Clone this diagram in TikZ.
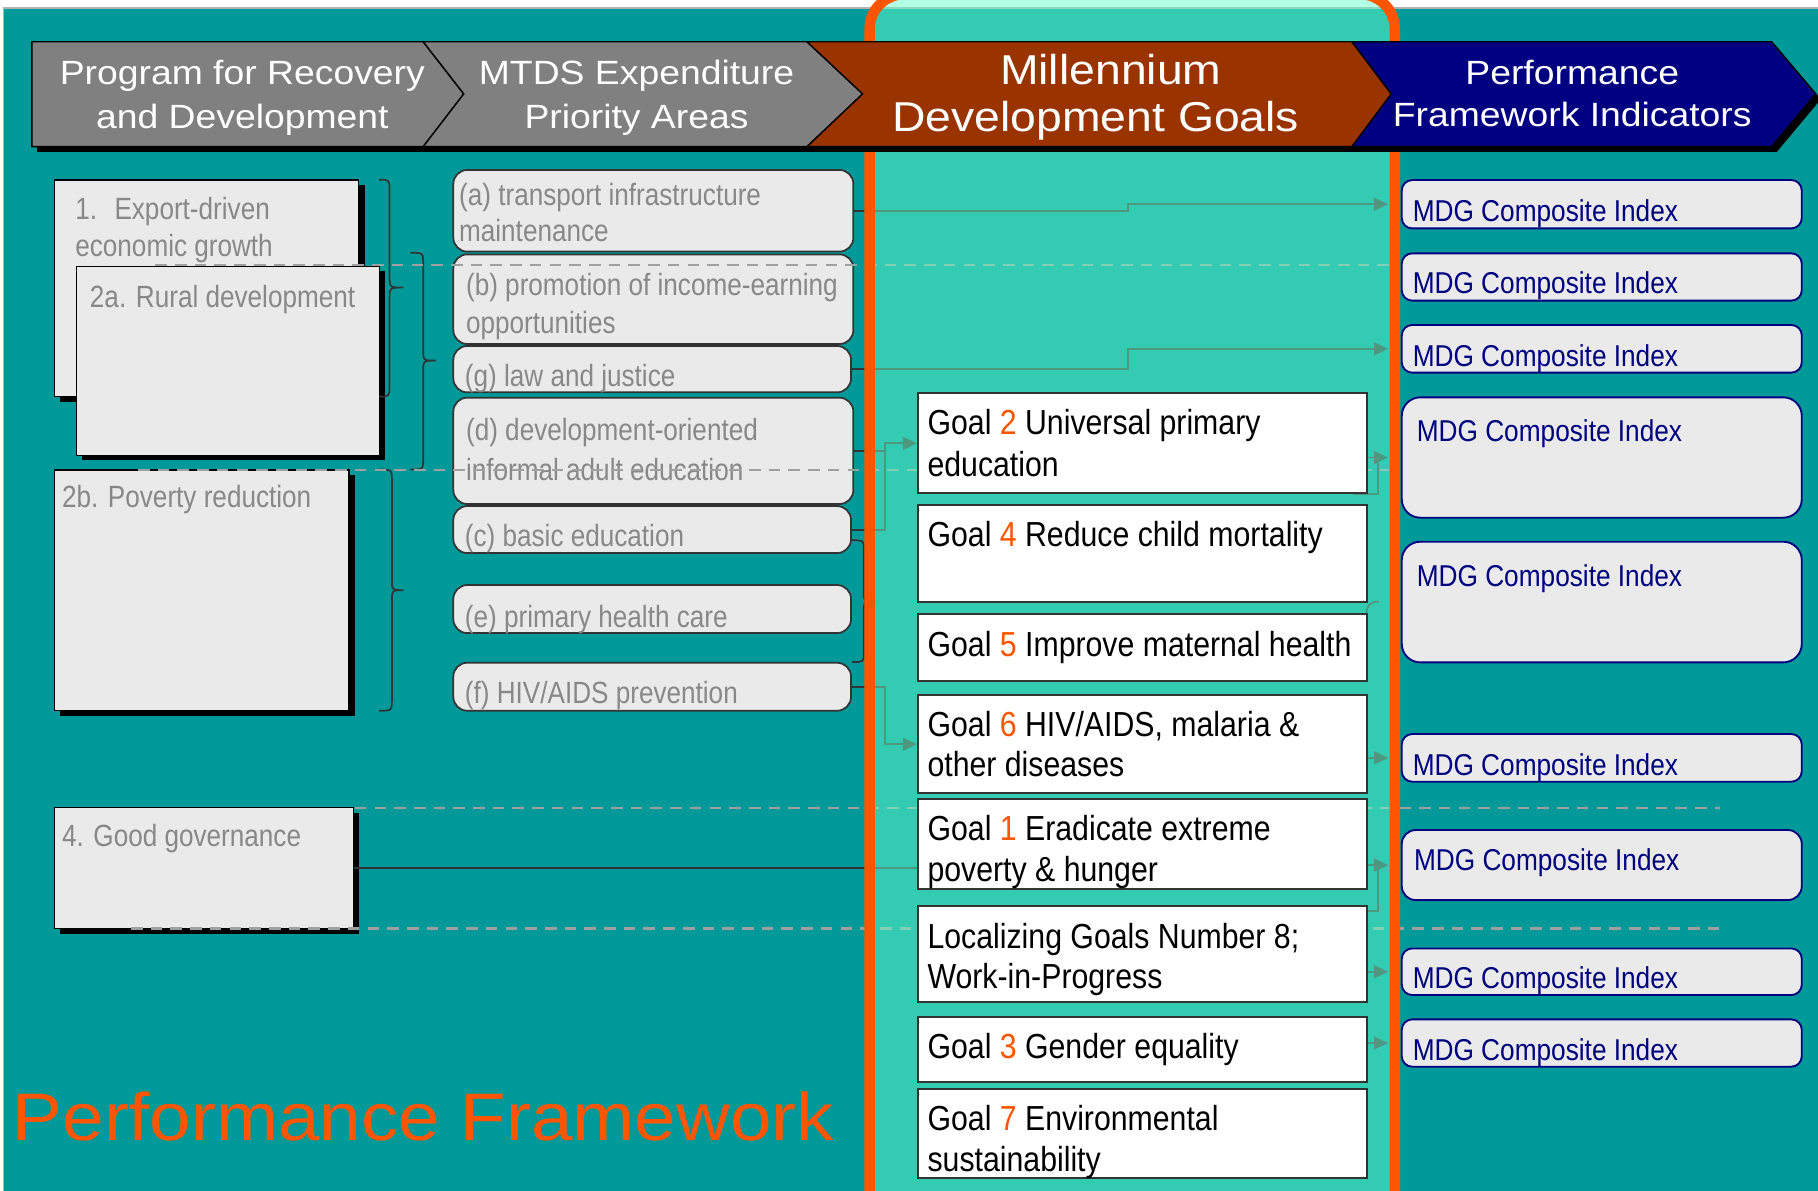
\documentclass[tikz,border=0pt]{standalone}
\usepackage{fontspec}
\newfontfamily\bodyf[FakeStretch=0.85]{Liberation Sans}
\newfontfamily\goalf[FakeStretch=0.87]{Liberation Sans}
\newfontfamily\headf[FakeStretch=1.11]{Liberation Sans}
\usetikzlibrary{arrows.meta,fit,shadows}
\pgfdeclarelayer{bglayer}
\pgfdeclarelayer{connlayer}
\pgfdeclarelayer{collayer}
\pgfdeclarelayer{toplayer}
\pgfsetlayers{bglayer,connlayer,collayer,main,toplayer}
\definecolor{teal0}{HTML}{009999}
\definecolor{colfill}{HTML}{66FFCC}
\definecolor{orng}{HTML}{FF5500}
\definecolor{bannergray}{HTML}{808080}
\definecolor{brown0}{HTML}{993300}
\definecolor{navy0}{HTML}{000080}
\definecolor{boxgray}{HTML}{EAEAEA}
\definecolor{txtgray}{HTML}{888888}
\definecolor{dkline}{HTML}{333333}
\definecolor{dashc}{HTML}{A0A0A0}
\newcommand\goalnum[1]{\textcolor{orng}{#1}}
\tikzset{
  lbox/.style={draw=black, line width=1pt, fill=boxgray, inner sep=0pt,
    drop shadow={shadow xshift=5pt, shadow yshift=-4.5pt, fill=black, opacity=1}},
  mbox/.style={draw=dkline, line width=1.5pt, fill=boxgray, rounded corners=12pt, inner sep=0pt},
  ibox/.style={draw=navy0, line width=1.6pt, fill=boxgray, rounded corners=#1, inner sep=0pt},
  ibox/.default=9pt,
  gbox/.style={draw=dkline, line width=1.8pt, fill=white, inner sep=0pt},
  btxt/.style={anchor=base west, inner sep=0pt, outer sep=0pt},
  ltxt/.style={btxt, text=txtgray, font=\bodyf\fontsize{26.5}{31}\selectfont},
  gtxt/.style={btxt, text=black, font=\goalf\fontsize{30}{36}\selectfont},
  mtxt/.style={btxt, text=navy0, font=\goalf\fontsize{26}{31}\selectfont},
  htxt/.style={anchor=base, inner sep=0pt, text=white, font=\headf\fontsize{29}{35}\selectfont},
  hbig/.style={anchor=base, inner sep=0pt, text=white, font=\headf\fontsize{36}{43}\selectfont},
  conn/.style={draw=dkline, line width=1.6pt},
  arr/.style={-{Triangle[length=12pt,width=11pt]}},
  dashsep/.style={draw=dashc, line width=2pt, dash pattern=on 10pt off 7pt},
  bracel/.style={draw=dkline, line width=1.5pt},
  segline/.style={draw=black, line width=1.2pt},
}
\begin{document}
\begin{tikzpicture}[x=1pt,y=-1pt]
\useasboundingbox (0,0) rectangle (1568,1027);

\begin{pgfonlayer}{bglayer}
  \fill[white] (0,0) rectangle (1568,1027);
  \filldraw[fill=teal0, draw=gray!60, line width=1.2pt] (3,7) rectangle (1580,1040);
  % left boxes
  \node[lbox, fit={(47,155.3) (309.4,342)}] (b1) {};
  \node[lbox, fit={(66,229.5) (327,392.5)}] (b2a) {};
  \node[lbox, fit={(47,405.4) (301,613)}] (b2b) {};
  \node[lbox, fit={(47,696.6) (304.6,800.7)}] (b4) {};
  \node[ltxt] (tb1a) at (65,189) {1.\hspace{15pt}Export-driven};
  \node[ltxt] (tb1b) at (65,221) {economic growth};
  \node[ltxt] (tb2a) at (77.6,265) {2a. Rural development};
  \node[ltxt] (tb2b) at (53.5,438) {2b. Poverty reduction};
  \node[ltxt] (tb4) at (53.5,730) {4. Good governance};
  % middle boxes
  \node[mbox, fit={(391,146.6) (736,217)}] (ma) {};
  \node[mbox, fit={(391,219.4) (736,296.7)}] (mb) {};
  \node[mbox, fit={(391,298.4) (734,338.4)}] (mg) {};
  \node[mbox, fit={(391,343) (736,434.7)}] (md) {};
  \node[mbox, fit={(391,436.5) (734,477)}] (mc) {};
  \node[mbox, fit={(391,504.6) (734,546)}] (me) {};
  \node[mbox, fit={(391,571.6) (734,613)}] (mf) {};
  \node[ltxt] (tma1) at (396,177) {(a) transport infrastructure};
  \node[ltxt] (tma2) at (396,208.5) {maintenance};
  \node[ltxt] (tmb1) at (402,254.5) {(b) promotion of income-earning};
  \node[ltxt] (tmb2) at (402,287.5) {opportunities};
  \node[ltxt] (tmg) at (401,333.5) {(g) law and justice};
  \node[ltxt] (tmd1) at (402,379.5) {(d) development-oriented};
  \node[ltxt] (tmd2) at (402,414) {informal adult education};
  \node[ltxt] (tmc) at (401,471.5) {(c) basic education};
  \node[ltxt] (tme) at (401,541) {(e) primary health care};
  \node[ltxt] (tmf) at (401,607) {(f) HIV/AIDS prevention};
  % indicator boxes
  \node[ibox, fit={(1209,155.3) (1554,197)}] (m1) {};
  \node[ibox, fit={(1209,218.5) (1554,259.3)}] (m2) {};
  \node[ibox, fit={(1209,280.3) (1554,321.4)}] (m3) {};
  \node[ibox=16pt, fit={(1209,342.7) (1554,446.5)}] (m4) {};
  \node[ibox=16pt, fit={(1209,467.2) (1554,571.3)}] (m5) {};
  \node[ibox, fit={(1209,633.1) (1554,674.2)}] (m6) {};
  \node[ibox=12pt, fit={(1209,715.9) (1554,776.3)}] (m7) {};
  \node[ibox, fit={(1209,818) (1554,858.2)}] (m8) {};
  \node[ibox, fit={(1209,879.2) (1554,920)}] (m9) {};
  % braces
  \draw[bracel] (327,155) .. controls (336,155) .. (336,165) -- (336,238) .. controls (336,248) .. (348,248) .. controls (336,248) .. (336,258) -- (336,332) .. controls (336,342) .. (327,342);
  \draw[bracel] (354,218) .. controls (365,218) .. (365,228) -- (365,301) .. controls (365,311) .. (376,311) .. controls (365,311) .. (365,321) -- (365,395) .. controls (365,405) .. (354,405);
  \draw[bracel] (327,405) .. controls (338,405) .. (338,415) -- (338,499) .. controls (338,509) .. (348,509) .. controls (338,509) .. (338,519) -- (338,603) .. controls (338,613) .. (327,613);
  \draw[bracel] (735,466) .. controls (745,466) .. (745,474) -- (745,511) .. controls (745,519) .. (755,519) .. controls (745,519) .. (745,527) -- (745,563) .. controls (745,571) .. (735,571);
  % dashed separators
  \draw[dashsep] (134,228.6) -- (1198,228.6);
  \draw[dashsep] (119,405.4) -- (1198,405.4);
  \draw[dashsep] (306,696.6) -- (1483.5,696.6);
  \draw[dashsep] (113,800.8) -- (1483.5,800.8);
\end{pgfonlayer}

% goal boxes (main layer, above the column tint)
\node[gbox, fit={(791.7,339.3) (1179,425.5)}] (g2) {};
\node[gbox, fit={(791.7,435.6) (1179,519)}] (g4) {};
\node[gbox, fit={(791.7,529.9) (1179,587.4)}] (g5) {};
\node[gbox, fit={(791.7,599.5) (1179,684.3)}] (g6) {};
\node[gbox, fit={(791.7,689.2) (1179,767)}] (g1) {};
\node[gbox, fit={(791.7,781.2) (1179,864)}] (gl) {};
\node[gbox, fit={(791.7,876.9) (1179,933)}] (g3) {};
\node[gbox, fit={(791.7,939.3) (1179,1015.8)}] (g7) {};
\node[gtxt] (tg2a) at (800,375) {Goal \goalnum{2} Universal primary};
\node[gtxt] (tg2b) at (800,411) {education};
\node[gtxt] (tg4) at (800,471.5) {Goal \goalnum{4} Reduce child mortality};
\node[gtxt] (tg5) at (800,566) {Goal \goalnum{5} Improve maternal health};
\node[gtxt] (tg6a) at (800,635.5) {Goal \goalnum{6} HIV/AIDS, malaria \&};
\node[gtxt] (tg6b) at (800,670) {other diseases};
\node[gtxt] (tg1a) at (800,724.5) {Goal \goalnum{1} Eradicate extreme};
\node[gtxt] (tg1b) at (800,760.5) {poverty \& hunger};
\node[gtxt] (tgla) at (800,818) {Localizing Goals Number 8;};
\node[gtxt] (tglb) at (800,852.5) {Work-in-Progress};
\node[gtxt] (tg3) at (800,913) {Goal \goalnum{3} Gender equality};
\node[gtxt] (tg7a) at (800,975) {Goal \goalnum{7} Environmental};
\node[gtxt] (tg7b) at (800,1010.5) {sustainability};
% indicator texts
\node[mtxt] (tm1) at (1218.5,191) {MDG Composite Index};
\node[mtxt] (tm2) at (1218.5,253) {MDG Composite Index};
\node[mtxt] (tm3) at (1218.5,315.7) {MDG Composite Index};
\node[mtxt] (tm4) at (1222,381) {MDG Composite Index};
\node[mtxt] (tm5) at (1222,506) {MDG Composite Index};
\node[mtxt] (tm6) at (1218.5,668.5) {MDG Composite Index};
\node[mtxt] (tm7) at (1219.6,751) {MDG Composite Index};
\node[mtxt] (tm8) at (1218.5,852.5) {MDG Composite Index};
\node[mtxt] (tm9) at (1218.5,914.3) {MDG Composite Index};

\coordinate (sx) at (973,0);
\coordinate (jx) at (763.5,0);
\coordinate (rx) at (1188.5,0);
\coordinate (g2b) at ([xshift=-13pt]g2.south east);
\coordinate (glb) at ([yshift=-5.5pt]gl.north east);
\coordinate (g5c) at ([xshift=-1.5pt]g5.north east);

\begin{pgfonlayer}{connlayer}
  \draw[conn, arr, shorten >=11pt] (ma.east) -- (ma.east -| sx) -- (sx |- m1.west) -- (m1.west);
  \draw[conn, arr, shorten >=11pt] (mg.east) -- (mg.east -| sx) -- (sx |- m3.west) -- (m3.west);
  \draw[conn] (md.east) -- (md.east -| jx);
  \draw[conn, arr] (mc.east) -- (mc.east -| jx) -- (jx |- g2.west) -- (g2.west);
  \draw[conn, arr] (mf.east) -- (mf.east -| jx) -- (jx |- g6.west) -- (g6.west);
  \draw[conn] (b4.east) -- (b4.east -| g1.west);
  \draw[conn, arr, shorten >=11pt] (g2.east |- m4.west) -- (m4.west);
  \draw[conn] (g2b) -- (g2b -| rx) -- (rx |- m4.west);
  \draw[conn] (g5c) .. controls +(0,-6) and +(-4,0) .. ++(8,-10) -- ++(3,0);
  \draw[conn, arr, shorten >=11pt] (g6.east |- m6.west) -- (m6.west);
  \draw[conn, arr, shorten >=11pt] (g1.east |- m7.west) -- (m7.west);
  \draw[conn] (glb) -- (glb -| rx) -- (rx |- m7.west);
  \draw[conn, arr, shorten >=11pt] (gl.east |- m8.west) -- (m8.west);
  \draw[conn, arr, shorten >=11pt] (g3.east |- m9.west) -- (m9.west);
\end{pgfonlayer}

\begin{pgfonlayer}{collayer}
  \fill[colfill, fill opacity=0.5, rounded corners=30pt] (750,1100) -- (750,-5) -- (1203,-5) -- (1203,1100) -- cycle;
\end{pgfonlayer}

\begin{pgfonlayer}{toplayer}
  \draw[orng, line width=9pt, rounded corners=30pt] (750,1100) -- (750,-5) -- (1203,-5) -- (1203,1100);
  % banner
  \fill[black] (32,40.5) -- (1532.5,40.5) -- (1570.5,85.5) -- (1532.5,131) -- (32,131) -- cycle;
  \filldraw[fill=bannergray, segline] (27.5,36) -- (365,36) -- (400,81) -- (365,126.5) -- (27.5,126.5) -- cycle;
  \filldraw[fill=bannergray, segline] (365,36) -- (696,36) -- (744,81) -- (696,126.5) -- (365,126.5) -- (400,81) -- cycle;
  \filldraw[fill=brown0, segline] (696,36) -- (1166,36) -- (1200,81) -- (1166,126.5) -- (696,126.5) -- (744,81) -- cycle;
  \filldraw[fill=navy0, segline] (1166,36) -- (1528,36) -- (1566,81) -- (1528,126.5) -- (1166,126.5) -- (1200,81) -- cycle;
  \node[htxt] (h1a) at (209,73.3) {Program for Recovery};
  \node[htxt] (h1b) at (209,110.7) {and Development};
  \node[htxt] (h2a) at (549,73.3) {MTDS Expenditure};
  \node[htxt] (h2b) at (549,110.7) {Priority Areas};
  \node[hbig] (h3a) at (958,73.3) {Millennium};
  \node[hbig] (h3b) at (945,113.6) {Development Goals};
  \node[htxt] (h4a) at (1356,73.3) {Performance};
  \node[htxt] (h4b) at (1356,109) {Framework Indicators};
  \node[btxt, text=orng, font=\headf\fontsize{58}{66}\selectfont] (title) at (11,984) {Performance Framework};
\end{pgfonlayer}
\end{tikzpicture}
\end{document}
